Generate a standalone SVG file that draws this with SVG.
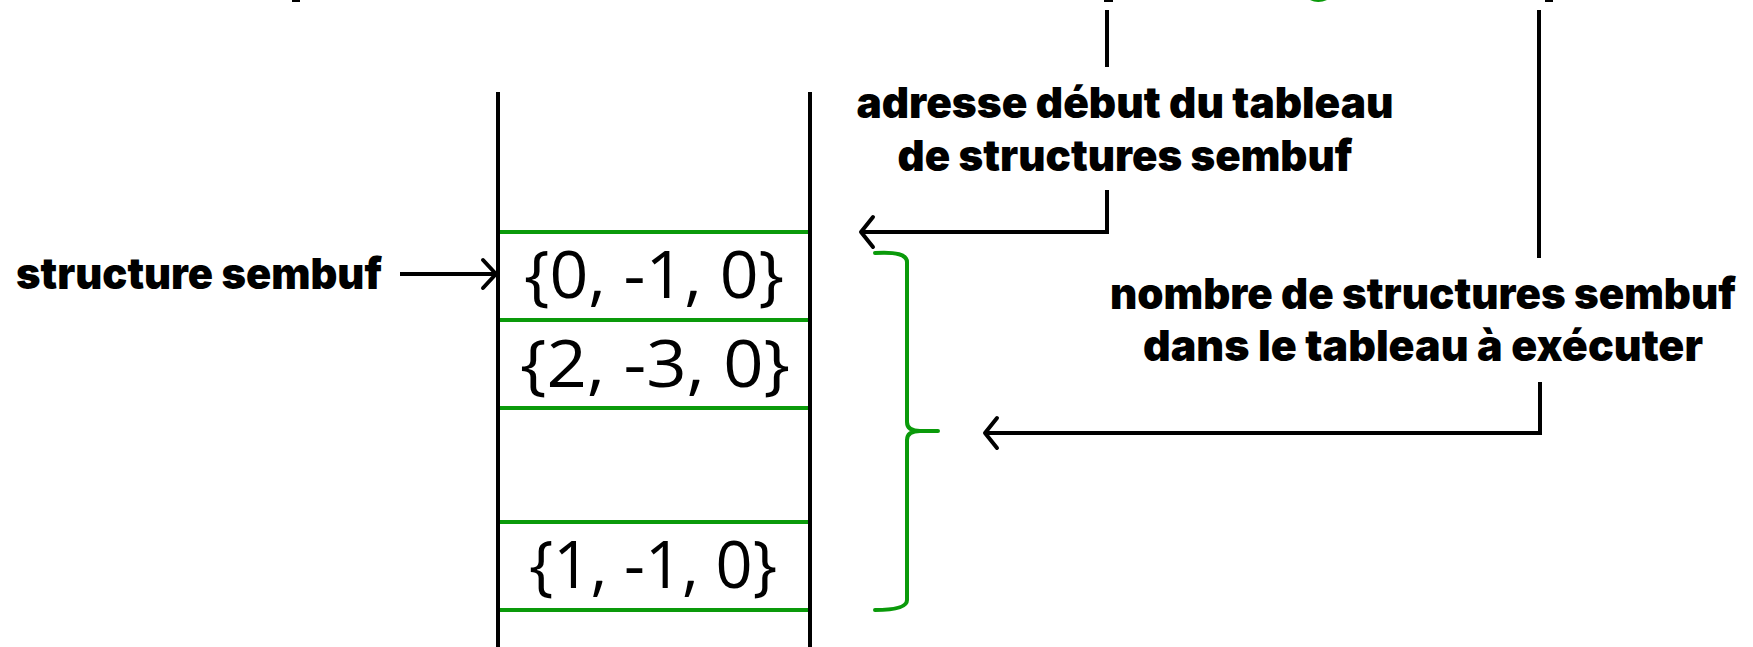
<svg xmlns="http://www.w3.org/2000/svg" width="1753" height="647" viewBox="0 0 1753 647">
<defs>
<style>
.bg{fill:#ffffff}
.blk{stroke:#000;stroke-width:4;fill:none}
.grn{stroke:#0a9a0a;stroke-width:4;fill:none}
.lbl{font-family:Inter,"Liberation Sans",sans-serif;font-weight:900;font-size:43px;fill:#000;text-anchor:middle}
.val{font-family:"Open Sans","Noto Sans","Liberation Sans",sans-serif;font-size:65px;fill:#000;text-anchor:middle}
.head{stroke:#000;stroke-width:4;fill:none;stroke-linecap:round;stroke-linejoin:round}
</style>
</defs>
<rect class="bg" x="0" y="0" width="1753" height="647"/>
<g id="cropped-top">
<rect x="292" y="0" width="8" height="2" fill="#000"/>
<rect x="1104" y="0" width="9" height="2" fill="#000"/>
<path d="M1310,0 Q1318,4 1327,0 Z" fill="#0a9a0a"/>
<rect x="1545" y="0" width="8" height="2" fill="#000"/>
</g>
<g id="stack">
<line class="blk" x1="498" y1="92" x2="498" y2="647"/>
<line class="blk" x1="810" y1="92" x2="810" y2="647"/>
<line class="grn" x1="500" y1="232" x2="808" y2="232"/>
<line class="grn" x1="500" y1="320" x2="808" y2="320"/>
<line class="grn" x1="500" y1="408" x2="808" y2="408"/>
<line class="grn" x1="500" y1="522" x2="808" y2="522"/>
<line class="grn" x1="500" y1="610" x2="808" y2="610"/>
</g>
<g id="entry1"><text class="val" x="654" y="298" textLength="260" lengthAdjust="spacingAndGlyphs">{0, -1, 0}</text></g>
<g id="entry2"><text class="val" x="655" y="387" textLength="270" lengthAdjust="spacingAndGlyphs">{2, -3, 0}</text></g>
<g id="entry3"><text class="val" x="653" y="588" textLength="248" lengthAdjust="spacingAndGlyphs">{1, -1, 0}</text></g>
<g id="label-structure"><text class="lbl" x="199" y="289" textLength="366" lengthAdjust="spacingAndGlyphs">structure sembuf</text></g>
<g id="label-adresse">
<text class="lbl" x="1125" y="118" textLength="537" lengthAdjust="spacingAndGlyphs">adresse début du tableau</text>
<text class="lbl" x="1125" y="171" textLength="455" lengthAdjust="spacingAndGlyphs">de structures sembuf</text>
</g>
<g id="label-nombre">
<text class="lbl" x="1423" y="309" textLength="626" lengthAdjust="spacingAndGlyphs">nombre de structures sembuf</text>
<text class="lbl" x="1423" y="361" textLength="560" lengthAdjust="spacingAndGlyphs">dans le tableau à exécuter</text>
</g>
<g id="brace">
<path class="grn" stroke-linecap="round" d="M875,253 Q907,251 907,262 L907,422 Q907,431 920,431 L938,431 M920,431 Q907,431 907,440 L907,600 Q907,610 875,610"/>
</g>
<g id="connectors">
<line class="blk" x1="1107" y1="10" x2="1107" y2="67"/>
<line class="blk" x1="1539" y1="10" x2="1539" y2="258"/>
<path class="blk" d="M400,274 L496,274"/>
<path class="head" d="M483,260 L496,274 L483,288"/>
<path class="blk" d="M1107,190 L1107,232 L863,232"/>
<path class="head" d="M873,217 L861,232 L873,247"/>
<path class="blk" d="M1540,382 L1540,433 L986,433"/>
<path class="head" d="M997,418 L985,433 L997,448"/>
</g>
</svg>
